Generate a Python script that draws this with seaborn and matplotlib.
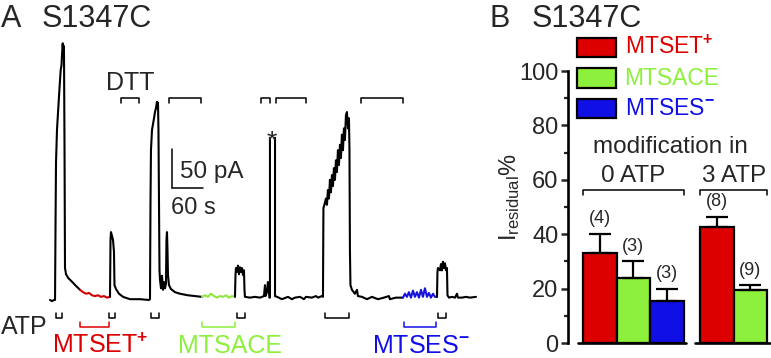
import numpy as np
import pandas as pd
import matplotlib
matplotlib.use("Agg")
import matplotlib.pyplot as plt
from matplotlib.patches import Rectangle
from matplotlib.ticker import FixedLocator
import seaborn as sns

# ---- panel A: current trace (time in s, current in pA) ----
seg1_t = [0, 3.9, 7.7, 9.7, 10.6, 11.6, 13.5, 16.1, 18.4, 20.7, 22.3, 23.2, 24.6, 25.5, 26.3,
          27.1, 28.1, 29.0, 31.0, 35.4, 38.7, 44.5, 50.3, 58.1]
seg1_i = [0, -1.5, 0, 0, 90, 176, 218, 247, 272, 295, 301, 314, 329, 318, 326,
          314, 192, 41, 33, 28, 26, 22, 18, 13]

mtset_t = [58.1, 63.9, 69.7, 75.5, 81.3, 87.1, 92.9, 98.7, 104.5, 110.3, 116.1]
mtset_i = [13, 10, 8, 9, 6, 5, 6, 4, 5, 3, 4]

seg2_t = [116.1, 117.1, 118.0, 120.0, 121.9, 123.8, 124.8, 127.7, 133.5, 141.3, 154.8, 174.2,
          191.6, 193.5, 194.5, 195.4, 197.4, 201.3, 203.2, 205.1, 207.0, 208.0, 209.0, 209.9,
          210.9, 211.9, 212.9, 214.8, 216.7, 218.7, 220.6, 222.5, 224.5, 225.4, 226.4, 227.4,
          228.3, 230.3, 234.1, 241.9, 251.6, 267.0, 280.6, 294.1]
seg2_i = [4, 77, 87, 82, 77, 62, 19, 14, 8, 4, 1, 1,
          0, 1, 128, 192, 218, 233, 241, 246, 254, 246, 253, 218,
          128, 38, 26, 15, 31, 13, 23, 15, 21, 77, 87, 64,
          32, 19, 14, 10, 8, 6, 5, 4]

mtsace_t = [294.1, 299.9, 305.7, 311.5, 317.3, 323.1, 329.0, 334.8, 340.6, 346.4, 352.2, 358.0]
mtsace_i = [4, 6, 4, 8, 5, 3, 5, 4, 6, 3, 5, 4]

seg3_t = [358.0, 359.0, 359.9, 361.8, 363.8, 365.7, 367.7, 369.6, 371.5, 373.5, 375.4, 376.4,
          377.3, 387.0, 396.7, 406.4, 414.1, 416.1, 417.0, 419.9, 421.8, 423.8, 424.7, 425.7, 425.7]
seg3_i = [4, 32, 41, 36, 44, 33, 42, 36, 41, 32, 38, 13,
          4, 3, 4, 3, 5, 19, 5, 10, 23, 13, 3, 3, 208]

seg4_t = [435.5, 435.5, 439.4, 449.0, 460.6, 468.3, 474.1, 483.9, 491.5, 495.4, 507.0, 514.8,
          518.6, 526.3, 528.3, 529.2, 530.2, 534.1, 536.0, 537.9, 539.9, 541.8, 543.7, 545.7,
          547.6, 549.5, 551.5, 553.4, 555.3, 557.3, 559.2, 561.2, 563.1, 565.0, 567.0, 568.9,
          570.8, 572.8, 574.7, 576.7, 578.6, 579.6, 580.5, 581.5, 584.4, 590.2, 594.1, 596.0,
          603.8, 613.5, 623.1, 634.7, 646.3, 656.0, 657.9, 669.5, 683.1]
seg4_i = [208, 5, 4, 1, 4, 1, 3, 4, 1, 4, 3, 5,
          3, 5, 4, 118, 120, 130, 122, 141, 130, 154, 138, 160,
          146, 169, 154, 179, 164, 192, 173, 199, 182, 212, 192, 220,
          205, 237, 241, 220, 233, 192, 64, 19, 13, 8, 13, 5,
          4, 1, 4, 1, 3, 5, 1, 3, 3]

mtses_t = [683.1, 687.0, 690.8, 694.7, 698.6, 702.5, 706.3, 710.2, 714.1, 718.0, 721.8, 725.7,
           729.6, 733.4, 737.3, 741.2, 745.1, 749.0]
mtses_i = [3, 8, 4, 10, 3, 12, 4, 10, 3, 13, 4, 15, 4, 9, 3, 8, 4, 4]

seg5_t = [749.0, 749.9, 750.9, 754.8, 756.7, 758.7, 760.6, 762.5, 764.5, 766.4, 768.3, 769.3,
          772.2, 778.0, 783.8, 787.7, 789.6, 797.4, 805.1, 812.9, 824.5]
seg5_i = [4, 36, 41, 38, 46, 38, 49, 41, 47, 38, 41, 6,
          3, 4, 3, 8, 3, 3, 4, 3, 4]

# application periods (s)
top_on = [137.4, 230.3, 408.3, 437.3, 601.8]
top_off = [172.2, 292.2, 425.7, 495.4, 683.1]
atp_on = [11.6, 114.2, 195.4, 361.8, 532.1, 750.8]
atp_off = [23.2, 125.8, 210.9, 377.3, 578.6, 766.3]
mts_on = [58.1, 294.1, 685.0]
mts_off = [114.2, 358.0, 746.9]

# ---- panel B: residual current ----
reagents = ["MTSET", "MTSACE", "MTSES", "MTSET", "MTSACE"]
conditions = ["0 ATP", "0 ATP", "0 ATP", "3 ATP", "3 ATP"]
means = [33, 24, 15.5, 42.5, 19.5]
sems = [7.2, 6.0, 4.5, 4.0, 1.9]
n_cells = [4, 3, 3, 8, 9]

RED, GREEN, BLUE = "#dc0000", "#8cf03c", "#1010e6"
colors = {"MTSET": RED, "MTSACE": GREEN, "MTSES": BLUE}
labels = {"MTSET": r"MTSET$^{\mathbf{+}}$", "MTSACE": "MTSACE", "MTSES": r"MTSES$^{\mathbf{-}}$"}

sns.set_style("white")
plt.rcParams["font.family"] = ["Liberation Sans", "DejaVu Sans"]
plt.rcParams["mathtext.fontset"] = "custom"
plt.rcParams["mathtext.rm"] = "Liberation Sans"
plt.rcParams["mathtext.it"] = "Liberation Sans:italic"
plt.rcParams["mathtext.bf"] = "Liberation Sans:bold"

W, H = 771, 358
fig = plt.figure(figsize=(W / 100, H / 100), dpi=100)

# panel A
axA = fig.add_axes([0, 0, 490 / W, 1])
segments = [(seg1_t, seg1_i, "black"), (mtset_t, mtset_i, "#d20000"),
            (seg2_t, seg2_i, "black"), (mtsace_t, mtsace_i, "#8ee640"),
            (seg3_t, seg3_i, "black"), (seg4_t, seg4_i, "black"),
            (mtses_t, mtses_i, "#1414dc"), (seg5_t, seg5_i, "black")]
for t, i, c in segments:
    sns.lineplot(x=t, y=i, sort=False, estimator=None, color=c, lw=1.5, ax=axA)

for a, b in zip(top_on, top_off):
    axA.plot([a, a, b, b], [252.6, 259, 259, 252.6], color="black", lw=1.1)
for a, b in zip(atp_on, atp_off):
    axA.plot([a, a, b, b], [-16.7, -23.1, -23.1, -16.7], color="black", lw=1.1)
for a, b, key in zip(mts_on, mts_off, ["MTSET", "MTSACE", "MTSES"]):
    axA.plot([a, a, b, b], [-28.2, -34.6, -34.6, -28.2], color=colors[key], lw=1.1)

# scale bars
axA.plot([236, 236], [193.6, 143.6], color="black", lw=1.1)
axA.plot([236, 296], [143.6, 143.6], color="black", lw=1.1)
axA.text(251, 164, "50 pA", fontsize=17.5, va="center", ha="left")
axA.text(234, 118, "60 s", fontsize=17, va="center", ha="left")
axA.text(154.8, 278, "DTT", fontsize=18, va="center", ha="center")
axA.text(429.6, 203, "*", fontsize=19, va="center", ha="center")
axA.text(-95, -34.6, "ATP", fontsize=18, va="center", ha="left")
axA.text(3.9, -59, labels["MTSET"], fontsize=18, va="center", ha="left", color=RED)
axA.text(247.7, -59, labels["MTSACE"], fontsize=18, va="center", ha="left", color=GREEN)
axA.text(622.5, -59, labels["MTSES"], fontsize=18, va="center", ha="left", color=BLUE)
axA.set_xlim(-96.8, 851.6)
axA.set_ylim(-74.4, 384.6)
axA.axis("off")

# panel B
axB = fig.add_axes([568 / W, (H - 343) / H, (W - 568) / W, 323 / H])
gap = 0.5
group_idx = [0 if c == "0 ATP" else 1 for c in conditions]
pos = [k + g * gap for k, g in enumerate(group_idx)]
df = pd.DataFrame({"pos": pos, "val": means, "reagent": reagents})
sns.barplot(data=df, x="pos", y="val", hue="reagent", palette=colors, native_scale=True,
            width=1, saturation=1, edgecolor="black", linewidth=1.6, errorbar=None,
            legend=False, ax=axB)
axB.errorbar(pos, means, yerr=[np.zeros(len(means)), sems], fmt="none", ecolor="black",
             elinewidth=1.6, capsize=8, capthick=1.6)
for p, m, s, n in zip(pos, means, sems, n_cells):
    axB.text(p, m + s + 2.3, f"({n})", fontsize=13, ha="center", va="bottom")

# broken baseline and group brackets
for g, name in enumerate(["0 ATP", "3 ATP"]):
    gp = [p for p, gi in zip(pos, group_idx) if gi == g]
    lo, hi = min(gp) - 0.5, max(gp) + 0.5
    axB.plot([lo - 0.15, hi + 0.08], [0, 0], color="black", lw=1.9, clip_on=False)
    axB.plot([lo, lo, hi, hi], [54.4, 56.3, 56.3, 54.4], color="black", lw=1.1)
    axB.text((lo + hi) / 2, 61.5, name, fontsize=17.5, ha="center", va="center")
axB.text(2.1, 72, "modification in", fontsize=17.5, ha="center", va="center")

# legend boxes
for k, key in enumerate(["MTSET", "MTSACE", "MTSES"]):
    yc = 108.6 - k * 11.2
    axB.add_patch(Rectangle((-0.68, yc - 3.6), 1.16, 7.2, facecolor=colors[key],
                            edgecolor="black", lw=1.6, clip_on=False))
    axB.text(0.74, yc, labels[key], fontsize=16.5, color=colors[key], va="center", ha="left")

axB.set_xlim(-0.948, 5.112)
axB.set_ylim(0, 118.75)
axB.set_xticks([])
axB.set_xlabel("")
axB.set_yticks(range(0, 101, 20))
axB.yaxis.set_minor_locator(FixedLocator(range(10, 100, 20)))
axB.tick_params(axis="y", which="major", direction="out", length=5, width=1.8,
                labelsize=17, pad=2, left=True)
axB.tick_params(axis="y", which="minor", direction="out", length=3, width=1.6, left=True)
for side in ["top", "right", "bottom"]:
    axB.spines[side].set_visible(False)
axB.spines["left"].set_bounds(0, 100)
axB.spines["left"].set_linewidth(1.9)
axB.spines["left"].set_color("black")
axB.set_ylabel(r"I$_{\mathregular{residual}}$%", fontsize=17)
axB.yaxis.set_label_coords(-0.227, 0.45)

# panel titles
fig.text(1 / W, 1 - 27 / H, "A", fontsize=22, va="baseline", ha="left")
fig.text(42 / W, 1 - 27 / H, "S1347C", fontsize=22, va="baseline", ha="left")
fig.text(490 / W, 1 - 27 / H, "B", fontsize=22, va="baseline", ha="left")
fig.text(532 / W, 1 - 27 / H, "S1347C", fontsize=22, va="baseline", ha="left")

fig.savefig("out.png", dpi=100)
